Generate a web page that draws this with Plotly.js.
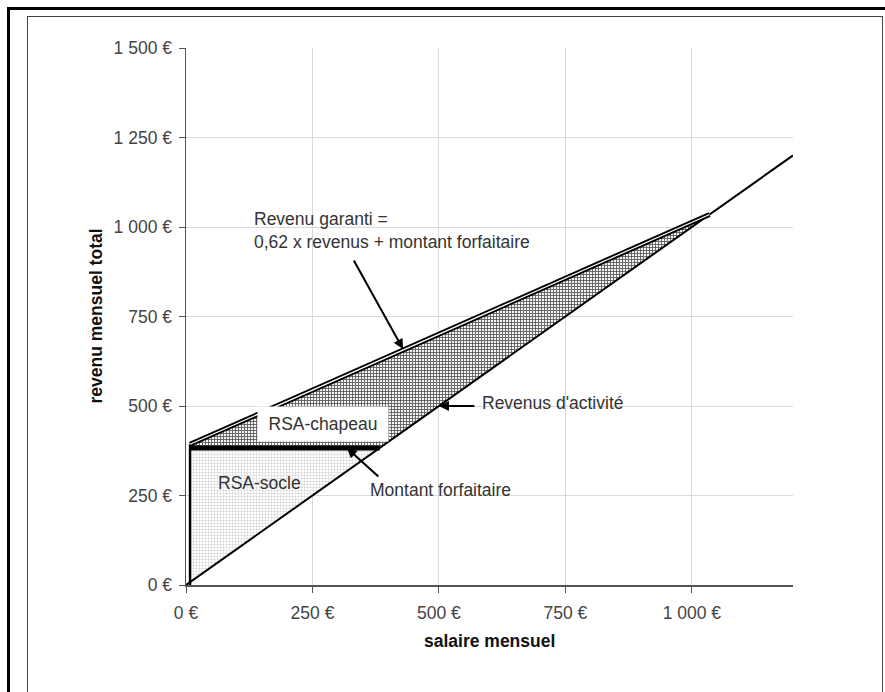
<!DOCTYPE html>
<html>
<head>
<meta charset="utf-8">
<script src="https://cdn.plot.ly/plotly-3.0.1.min.js"></script>
<style>
  html, body { margin: 0; padding: 0; background: #fff; overflow: hidden; }
  #outer { position: absolute; left: 7px; top: 7px; width: 920px; height: 740px; border: 3px solid #000; }
  #inner { position: absolute; left: 27px; top: 16px; width: 854px; height: 740px; border: 1.5px solid #444; }
  #chart { position: absolute; left: 0; top: 0; width: 885px; height: 692px; }
</style>
</head>
<body>
<div id="outer"></div>
<div id="inner"></div>
<div id="chart"></div>
<script>
// ---- data ----
const salaire = [0, 1200];                 // salaire mensuel (€)
const revenusActivite = [0, 1200];         // revenus d'activité = salaire
const montantForfaitaire = 383;            // montant forfaitaire (€)
const socleX = 8;                          // left edge of RSA areas (€)
const garantiX = [8, 1035];                // revenu garanti line, x (€)
const garantiY = [393, 1035];              // revenu garanti line, y (€)
const xTickVals = [0, 250, 500, 750, 1000];
const xTickText = ['0 €', '250 €', '500 €', '750 €', '1 000 €'];
const yTickVals = [0, 250, 500, 750, 1000, 1250, 1500];
const yTickText = ['0 €', '250 €', '500 €', '750 €', '1 000 €', '1 250 €', '1 500 €'];

const FONT = 'Liberation Sans, Arial, sans-serif';

const traces = [
  { // RSA-socle area
    x: [socleX, socleX, montantForfaitaire, socleX],
    y: [socleX, montantForfaitaire, montantForfaitaire, socleX],
    mode: 'lines', fill: 'toself', line: {width: 0, color: 'rgba(0,0,0,0)'},
    fillcolor: '#ffffff',
    fillpattern: {shape: '+', size: 3, solidity: 0.25, fgcolor: '#c4c4c4', bgcolor: '#ffffff'},
    hoverinfo: 'skip'
  },
  { // RSA-chapeau area
    x: [garantiX[0], garantiX[1], montantForfaitaire, socleX, garantiX[0]],
    y: [garantiY[0], garantiY[1], montantForfaitaire, montantForfaitaire, garantiY[0]],
    mode: 'lines', fill: 'toself', line: {width: 0, color: 'rgba(0,0,0,0)'},
    fillcolor: '#ffffff',
    fillpattern: {shape: '+', size: 3, solidity: 0.5, fgcolor: '#5a5a5a', bgcolor: '#f4f4f4'},
    hoverinfo: 'skip'
  },
  { // revenus d'activité
    x: salaire, y: revenusActivite, mode: 'lines',
    line: {color: '#000', width: 2}, hoverinfo: 'skip'
  },
  { // vertical edge
    x: [socleX, socleX], y: [0, garantiY[0]], mode: 'lines',
    line: {color: '#000', width: 2.5}, hoverinfo: 'skip'
  },
  { // montant forfaitaire
    x: [socleX, montantForfaitaire], y: [montantForfaitaire, montantForfaitaire], mode: 'lines',
    line: {color: '#000', width: 5}, hoverinfo: 'skip'
  },
  { // revenu garanti (double line)
    x: garantiX, y: garantiY, mode: 'lines',
    line: {color: '#000', width: 5}, hoverinfo: 'skip'
  },
  {
    x: garantiX, y: garantiY, mode: 'lines',
    line: {color: '#ffffff', width: 1.2}, hoverinfo: 'skip'
  }
];

const txt = {family: FONT, size: 17.5, color: '#333'};
const tickFont = {family: FONT, size: 17.5, color: '#444'};

const layout = {
  width: 885, height: 692,
  margin: {l: 186, r: 92, t: 48, b: 107, pad: 0},
  paper_bgcolor: 'rgba(0,0,0,0)',
  plot_bgcolor: 'rgba(0,0,0,0)',
  showlegend: false,
  font: {family: FONT, size: 17.5, color: '#444'},
  xaxis: {
    range: [0, 1200], tickvals: xTickVals, ticktext: xTickText,
    showgrid: true, gridcolor: '#d9d9d9', gridwidth: 1,
    showline: true, linecolor: '#555', linewidth: 1.5,
    ticks: 'outside', ticklen: 6, tickcolor: '#555', zeroline: false,
    ticklabelstandoff: 5,
    tickfont: tickFont, fixedrange: true
  },
  yaxis: {
    range: [0, 1500], tickvals: yTickVals, ticktext: yTickText,
    showgrid: true, gridcolor: '#d9d9d9', gridwidth: 1,
    showline: true, linecolor: '#555', linewidth: 1.5,
    ticks: 'outside', ticklen: 6, tickcolor: '#555', zeroline: false,
    ticklabelstandoff: 3,
    tickfont: tickFont, fixedrange: true
  },
  annotations: [
    {xref: 'paper', yref: 'paper', x: 0.5, y: 0, yshift: -56, showarrow: false,
     text: '<b>salaire mensuel</b>', font: {family: FONT, size: 17.5, color: '#111'},
     xanchor: 'center', yanchor: 'middle'},
    {xref: 'paper', yref: 'paper', x: 0, y: 0.5, xshift: -91, showarrow: false,
     text: '<b>revenu mensuel total</b>', textangle: -90,
     font: {family: FONT, size: 17.5, color: '#111'}, xanchor: 'center', yanchor: 'middle'},
    {x: 130, y: 991, xref: 'x', yref: 'y', showarrow: false, align: 'left',
     xanchor: 'left', yanchor: 'middle',
     text: 'Revenu garanti =<br>0,62 x revenus + montant forfaitaire', font: txt},
    {x: 271, y: 450, xref: 'x', yref: 'y', showarrow: false,
     text: 'RSA-chapeau', font: txt, bgcolor: '#ffffff', borderpad: 7, width: 116},
    {x: 146, y: 286, xref: 'x', yref: 'y', showarrow: false,
     text: 'RSA-socle', font: txt},
    {x: 360, y: 266, xref: 'x', yref: 'y', showarrow: false, xanchor: 'left',
     text: 'Montant forfaitaire', font: txt},
    {x: 581, y: 508, xref: 'x', yref: 'y', showarrow: false, xanchor: 'left',
     text: "Revenus d'activité", font: txt},
    // arrows
    {x: 429, y: 659, xref: 'x', yref: 'y', text: '', showarrow: true,
     ax: -50, ay: -90, arrowhead: 2, arrowsize: 1, arrowwidth: 2, arrowcolor: '#000', standoff: 0},
    {x: 318, y: montantForfaitaire, xref: 'x', yref: 'y', text: '', showarrow: true,
     ax: 33, ay: 30, arrowhead: 2, arrowsize: 1, arrowwidth: 2, arrowcolor: '#000', standoff: 0},
    {x: 500, y: 500, xref: 'x', yref: 'y', text: '', showarrow: true,
     ax: 37, ay: 0, arrowhead: 2, arrowsize: 1, arrowwidth: 2, arrowcolor: '#000', standoff: 0}
  ]
};

Plotly.newPlot('chart', traces, layout, {displayModeBar: false, staticPlot: true});
</script>
</body>
</html>
